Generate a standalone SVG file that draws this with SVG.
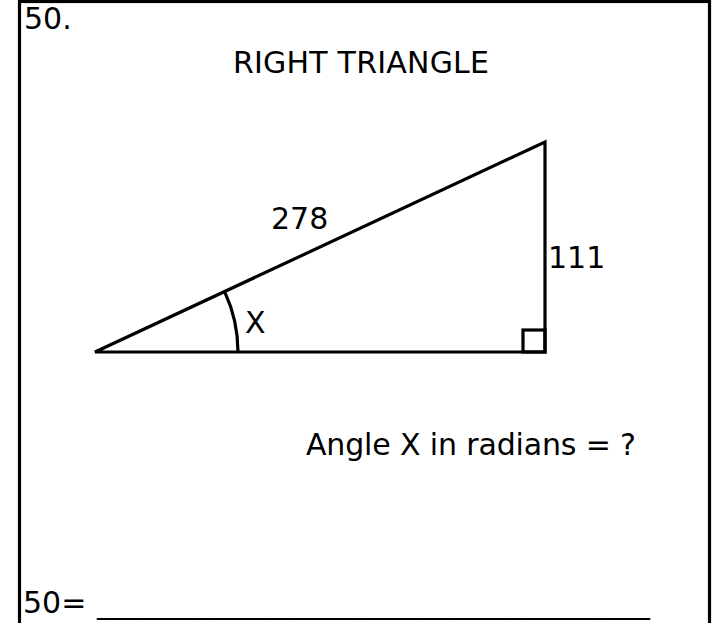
<svg xmlns="http://www.w3.org/2000/svg" width="728" height="623" viewBox="0 0 728 623">
<style>
text{font-family:"DejaVu Sans",Verdana,sans-serif;font-size:30px;fill:#000}
.ln{fill:none;stroke:#000;stroke-width:3.2}
</style>
<rect x="0" y="0" width="728" height="623" fill="#fff"/>
<rect class="ln" x="19.5" y="1.5" width="690" height="650"/>
<text x="24" y="29">50.</text>
<text x="233" y="73" textLength="256" lengthAdjust="spacing">RIGHT TRIANGLE</text>
<g id="triangle">
<path class="ln" d="M95,352 L545,352 L545,142 Z" stroke-linejoin="miter"/>
<rect class="ln" x="523" y="330" width="22" height="22"/>
<path class="ln" d="M238,352 A143,143 0 0 0 224.6,291.6"/>
</g>
<g id="labels">
<text x="245" y="333">X</text>
<text x="271" y="229">278</text>
<text x="548" y="268">111</text>
</g>
<text x="306" y="455" textLength="330" lengthAdjust="spacing">Angle X in radians = ?</text>
<text x="23" y="613">50=</text>
<text x="97" y="613" textLength="553" lengthAdjust="spacingAndGlyphs">_______________________________________</text>
</svg>
